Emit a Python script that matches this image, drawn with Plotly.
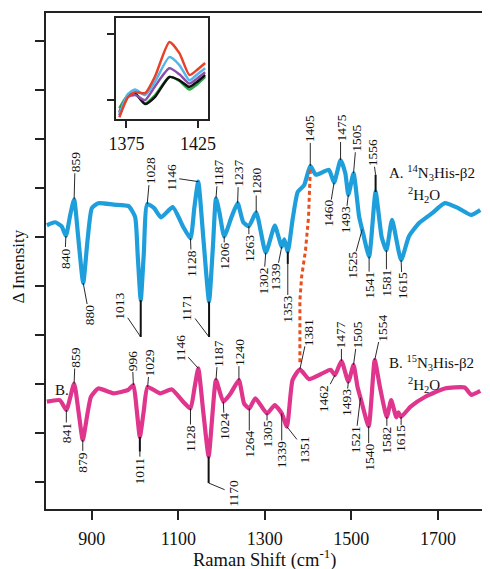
import numpy as np
import plotly.graph_objects as go

FONT = "Liberation Serif, 'Times New Roman', serif"

# ---- Spectrum A: 14N3His-beta2 in 2H2O (Delta intensity, arbitrary units)
A_x = [796, 815, 830, 840, 850, 859, 868, 880, 890, 900, 915, 950, 985, 1000, 1006, 1013, 1020, 1028,
       1044, 1060, 1087, 1111, 1128, 1137, 1146, 1158, 1171, 1180, 1187, 1195, 1206, 1223, 1237, 1250,
       1263, 1280, 1302, 1323, 1339, 1345, 1353, 1364, 1376, 1391, 1405, 1418, 1448, 1460, 1475, 1486,
       1493, 1505, 1518, 1527, 1541, 1556, 1570, 1581, 1594, 1615, 1633, 1656, 1686, 1716, 1747, 1777, 1798]
A_y = [5.24, 5.30, 5.22, 5.02, 5.45, 5.77, 5.04, 4.06, 4.93, 5.59, 5.69, 5.66, 5.63, 5.41, 4.63, 3.71, 4.64, 5.67,
       5.59, 5.40, 5.61, 5.21, 4.97, 5.60, 6.13, 4.95, 3.68, 4.82, 5.79, 5.50, 5.01, 5.41, 5.69, 5.30,
       5.22, 5.50, 4.68, 5.23, 4.80, 4.95, 4.70, 5.35, 5.92, 6.06, 6.45, 6.27, 6.37, 6.11, 6.57, 6.30,
       5.86, 6.30, 5.41, 5.08, 4.60, 5.92, 5.00, 4.73, 5.35, 4.53, 5.01, 5.28, 5.48, 5.69, 5.59, 5.45, 5.55]

# ---- Spectrum B: 15N3His-beta2 in 2H2O
B_x = [796, 826, 841, 859, 869, 879, 890, 898, 915, 950, 984, 996, 1004, 1011, 1020, 1029, 1058, 1085,
       1111, 1128, 1137, 1146, 1158, 1170, 1179, 1187, 1204, 1221, 1240, 1252, 1264, 1278, 1305, 1323,
       1339, 1351, 1364, 1381, 1402, 1429, 1452, 1462, 1477, 1493, 1505, 1514, 1521, 1540, 1554, 1566,
       1582, 1592, 1604, 1609, 1615, 1637, 1671, 1716, 1762, 1777, 1798]
B_y = [1.64, 1.67, 1.47, 2.01, 1.45, 0.86, 1.40, 1.74, 1.91, 1.81, 1.88, 1.98, 1.45, 0.92, 1.45, 1.94, 1.81, 1.89,
       1.64, 1.50, 1.90, 2.32, 1.40, 0.52, 1.40, 2.08, 1.64, 1.81, 2.08, 1.60, 1.50, 1.71, 1.40, 1.57,
       1.40, 1.13, 2.08, 2.30, 2.10, 2.20, 2.29, 2.18, 2.47, 2.05, 2.39, 1.95, 1.72, 1.14, 2.49, 1.94,
       1.33, 1.67, 1.32, 1.42, 1.33, 1.54, 1.74, 1.91, 1.93, 1.78, 1.86]

# ---- sharp raw-spectrum extremes (black) beyond the smoothed traces
A_tip_x = [1013, 1171, 1353, 1556]
A_tip_y = [2.96, 2.96, 4.45, 6.27]
B_tip_x = [1011, 1170]
B_tip_y = [0.62, -0.02]

# ---- peak labels
A_peaks = [840, 859, 880, 1013, 1028, 1128, 1146, 1171, 1187, 1206, 1237, 1263, 1280, 1302, 1339, 1353,
           1405, 1460, 1475, 1493, 1505, 1525, 1541, 1556, 1581, 1615]
A_labels = [str(v) for v in A_peaks]
B_peaks = [841, 859, 879, 996, 1011, 1029, 1128, 1146, 1170, 1187, 1204, 1240, 1264, 1305, 1339, 1351,
           1381, 1462, 1477, 1493, 1505, 1521, 1540, 1554, 1582, 1615]
B_labels = ["841", "859", "879", "996", "1011", "1029", "1128", "1146", "1170", "1187", "1024", "1240",
            "1264", "1305", "1339", "1351", "1381", "1462", "1477", "1493", "1505", "1521", "1540", "1554",
            "1582", "1615"]

# ---- 1405 -> 1381 isotope-shift connector
shift_x = [1405, 1401, 1394, 1385, 1381, 1381, 1381]
shift_y = [6.37, 5.41, 4.73, 4.19, 3.71, 2.69, 2.39]

# ---- inset (1367-1432 cm-1 region, five traces)
in_x = [1370, 1376, 1381, 1388, 1395, 1405, 1412, 1419, 1424, 1430]
in_green = [-0.12, 0.076, 0.10, -0.05, 0.076, 0.35, 0.29, 0.16, 0.23, 0.35]
in_black = [-0.18, 0.06, 0.10, -0.06, 0.05, 0.35, 0.30, 0.20, 0.27, 0.38]
in_purple = [-0.23, 0.045, 0.076, 0.0, 0.21, 0.48, 0.39, 0.25, 0.32, 0.42]
in_blue = [-0.20, 0.09, 0.16, 0.076, 0.28, 0.65, 0.53, 0.30, 0.38, 0.48]
in_red = [-0.26, 0.045, 0.12, 0.106, 0.36, 0.88, 0.71, 0.38, 0.45, 0.56]

# ---------------- layout / style (not data) ----------------
A_off = [(-1, 22), (1, -37), (6, 32), (-21, -31), (3, -33), (1, 25), (-27, -4), (-22, -29), (2, -26), (0, 20),
         (1, -30), (0, 22), (0, -31), (-2, 28), (-6, 30), (0, 45), (0, -37), (-5, 31), (0, -32), (-3, 25),
         (3, -35), (-10, 36), (0, 29), (-3, -22), (0, 33), (1, 26)]
B_off = [(0, 23), (1, -26), (0, 22), (-1, -24), (0, 19), (2, -24), (0, 30), (-18, -20), (24, 10), (2, -27),
         (1, 25), (0, -28), (0, 36), (0, 21), (0, 41), (18, 23), (8, -37), (-12, 23), (0, -26), (-2, 21),
         (4, -30), (-5, 42), (0, 31), (7, -32), (0, 23), (0, 22)]

BLUE = "#1E9FDC"
PINK = "#E0358C"

fig = go.Figure()

for xs, ys, col in [(A_x, A_y, BLUE), (B_x, B_y, PINK)]:
    fig.add_trace(go.Scatter(x=xs, y=ys, mode="lines",
                             line=dict(color=col, width=4.2, shape="spline", smoothing=0.5),
                             hoverinfo="skip", showlegend=False))


def tip_segments(tx, ty, xs, ys):
    sx, sy = [], []
    for t, v in zip(tx, ty):
        sx += [t, t, None]
        sy += [float(np.interp(t, xs, ys)), v, None]
    return sx, sy


for tx, ty, xs, ys in [(A_tip_x, A_tip_y, A_x, A_y), (B_tip_x, B_tip_y, B_x, B_y)]:
    sx, sy = tip_segments(tx, ty, xs, ys)
    fig.add_trace(go.Scatter(x=sx, y=sy, mode="lines", line=dict(color="#111111", width=2),
                             hoverinfo="skip", showlegend=False))

fig.add_trace(go.Scatter(x=shift_x, y=shift_y, mode="lines",
                         line=dict(color="#E8501E", width=3, dash="4px,3px"),
                         hoverinfo="skip", showlegend=False))

inset_cols = [("#2BA84A", in_green), ("#111111", in_black), ("#8A4FA8", in_purple),
              ("#55B4EA", in_blue), ("#E8412A", in_red)]
for col, ys in inset_cols:
    fig.add_trace(go.Scatter(x=in_x, y=ys, mode="lines", xaxis="x2", yaxis="y2",
                             line=dict(color=col, width=2.5, shape="spline", smoothing=0.6),
                             hoverinfo="skip", showlegend=False))

annotations = []


def add_labels(peaks, labels, offs, xs, ys, tips_x, tips_y):
    tipmap = dict(zip(tips_x, tips_y))
    for p, lab, (dx, dy) in zip(peaks, labels, offs):
        py = tipmap.get(p, float(np.interp(p, xs, ys)))
        annotations.append(dict(x=p, y=py, xref="x", yref="y", text=lab, textangle=-90,
                                showarrow=True, arrowhead=0, arrowwidth=0.9, arrowcolor="#111111",
                                ax=dx, ay=dy, standoff=0, startstandoff=0, borderpad=0,
                                font=dict(family=FONT, size=13.5, color="#111111")))


add_labels(A_peaks, A_labels, A_off, A_x, A_y, A_tip_x, A_tip_y)
add_labels(B_peaks, B_labels, B_off, B_x, B_y, B_tip_x, B_tip_y)

txt = dict(family=FONT, size=15, color="#111111")
annotations += [
    dict(x=0.7815, y=0.677, xref="paper", yref="paper", xanchor="left", yanchor="middle", showarrow=False,
         text="A. <sup>14</sup>N<sub>3</sub>His-β2", font=txt),
    dict(x=0.8266, y=0.633, xref="paper", yref="paper", xanchor="left", yanchor="middle", showarrow=False,
         text="<sup>2</sup>H<sub>2</sub>O", font=txt),
    dict(x=0.7815, y=0.294, xref="paper", yref="paper", xanchor="left", yanchor="middle", showarrow=False,
         text="B. <sup>15</sup>N<sub>3</sub>His-β2", font=txt),
    dict(x=0.8266, y=0.250, xref="paper", yref="paper", xanchor="left", yanchor="middle", showarrow=False,
         text="<sup>2</sup>H<sub>2</sub>O", font=txt),
    dict(x=0.0158, y=0.24, xref="paper", yref="paper", xanchor="left", yanchor="middle", showarrow=False,
         text="B.", font=txt),
    dict(x=-0.063, y=0.488, xref="paper", yref="paper", xanchor="center", yanchor="middle", showarrow=False,
         text="Δ Intensity", textangle=-90, font=dict(family=FONT, size=17, color="#111111")),
    dict(x=0.5, y=-0.099, xref="paper", yref="paper", xanchor="center", yanchor="middle", showarrow=False,
         text="Raman Shift (cm<sup>-1</sup>)", font=dict(family=FONT, size=18.5, color="#111111")),
]

axis_common = dict(showgrid=False, zeroline=False, showline=True, linecolor="#222222", linewidth=1.5,
                   ticks="outside", tickcolor="#222222", tickwidth=1.5)

fig.update_layout(
    width=490, height=569,
    margin=dict(l=46, r=0, t=13, b=60),
    paper_bgcolor="white", plot_bgcolor="white",
    xaxis=dict(range=[794, 1802], domain=[0, 1], tickvals=[900, 1100, 1300, 1500, 1700],
               ticklen=9, mirror=True, ticklabelstandoff=4,
               tickfont=dict(family=FONT, size=18, color="#111111"), **axis_common),
    yaxis=dict(range=[-0.55, 9.57], domain=[0, 1], tickvals=list(range(10)), ticklen=9,
               showticklabels=False, mirror=False, **axis_common),
    xaxis2=dict(range=[1367.5, 1432], domain=[0.16, 0.3716], anchor="y2", tickvals=[1375, 1425],
                ticklen=7, mirror=True, ticklabelstandoff=1,
                tickfont=dict(family=FONT, size=18, color="#111111"), **axis_common),
    yaxis2=dict(range=[-0.288, 1.242], domain=[0.786, 0.99], anchor="x2", tickvals=[0, 1], ticklen=7,
                showticklabels=False, mirror=True, **axis_common),
    annotations=annotations,
)

fig.write_html("out.html", config={"displayModeBar": False},
               post_script="document.body.style.margin='0px';")
